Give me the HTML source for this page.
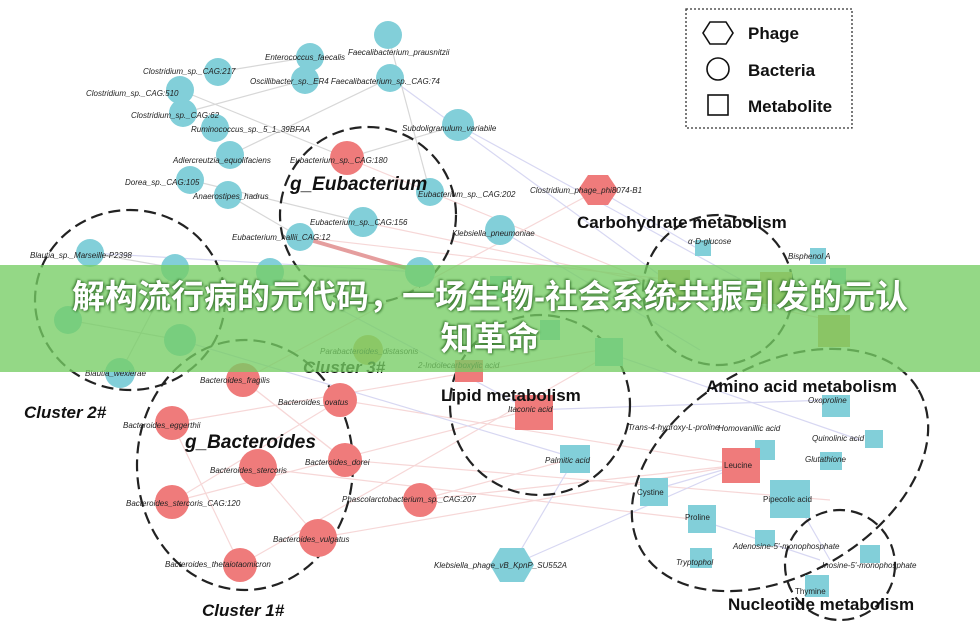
<!DOCTYPE html>
<html><head><meta charset="utf-8"><style>
body{margin:0;background:#fff;width:980px;height:638px;overflow:hidden;position:relative;font-family:"Liberation Sans",sans-serif}
svg{position:absolute;left:0;top:0}
.banner{position:absolute;left:0;top:265px;width:980px;height:107px;background:rgba(118,205,100,0.78)}
.bt{position:absolute;left:0;top:276px;width:980px;text-align:center;color:#fff;font:bold 33px "Liberation Sans","Noto Sans CJK SC",sans-serif;line-height:42px;text-shadow:1px 1px 2px #3a7a30,-1px -1px 2px #3a7a30}
</style></head><body>
<svg width="980" height="638" viewBox="0 0 980 638" font-family="Liberation Sans, sans-serif">
<g stroke-width="1.2" opacity="0.55">
<g stroke="#f0b8b8">
<line x1="243" y1="380" x2="598" y2="190"/><line x1="340" y1="400" x2="740" y2="465"/><line x1="258" y1="468" x2="700" y2="520"/>
<line x1="172" y1="502" x2="530" y2="410"/><line x1="318" y1="538" x2="740" y2="465"/><line x1="240" y1="565" x2="600" y2="360"/>
<line x1="345" y1="460" x2="830" y2="500"/><line x1="420" y1="500" x2="740" y2="465"/><line x1="172" y1="423" x2="600" y2="350"/>
<line x1="347" y1="158" x2="720" y2="310"/><line x1="300" y1="237" x2="760" y2="290"/><line x1="363" y1="222" x2="830" y2="320"/>
<line x1="243" y1="380" x2="345" y2="460"/><line x1="340" y1="400" x2="172" y2="502"/><line x1="258" y1="468" x2="318" y2="538"/>
<line x1="172" y1="423" x2="240" y2="565"/><line x1="345" y1="460" x2="243" y2="380"/><line x1="420" y1="500" x2="575" y2="458"/>
</g>
<g stroke="#b8b8e8">
<line x1="512" y1="565" x2="740" y2="465"/><line x1="512" y1="565" x2="575" y2="458"/><line x1="598" y1="190" x2="700" y2="250"/>
<line x1="500" y1="230" x2="700" y2="350"/><line x1="458" y1="125" x2="760" y2="290"/><line x1="390" y1="78" x2="680" y2="290"/>
<line x1="530" y1="410" x2="830" y2="400"/><line x1="600" y1="350" x2="860" y2="440"/><line x1="653" y1="490" x2="740" y2="465"/>
<line x1="700" y1="520" x2="820" y2="560"/><line x1="790" y1="490" x2="830" y2="560"/><line x1="270" y1="272" x2="530" y2="410"/>
<line x1="90" y1="253" x2="420" y2="272"/><line x1="180" y1="340" x2="575" y2="458"/>
</g>
<g stroke="#b8b8b8">
<line x1="310" y1="57" x2="218" y2="72"/><line x1="305" y1="80" x2="183" y2="113"/><line x1="390" y1="78" x2="230" y2="155"/>
<line x1="388" y1="35" x2="430" y2="192"/><line x1="180" y1="90" x2="347" y2="158"/><line x1="190" y1="180" x2="363" y2="222"/>
<line x1="228" y1="195" x2="300" y2="237"/><line x1="90" y1="253" x2="175" y2="268"/><line x1="68" y1="320" x2="180" y2="340"/>
<line x1="120" y1="373" x2="175" y2="268"/><line x1="458" y1="125" x2="347" y2="158"/>
</g>
<line x1="300" y1="237" x2="420" y2="272" stroke="#d05050" stroke-width="4"/>
</g>
<g fill="none" stroke="#222" stroke-width="2.2" stroke-dasharray="12,6">
<ellipse cx="130" cy="300" rx="95" ry="90"/>
<circle cx="368" cy="215" r="88"/>
<ellipse cx="245" cy="465" rx="108" ry="125"/>
<circle cx="540" cy="405" r="90"/>
<circle cx="718" cy="290" r="75"/>
<ellipse cx="780" cy="470" rx="160" ry="105" transform="rotate(-30 780 470)"/>
<circle cx="840" cy="565" r="55"/>
</g>
<g fill="#82cfd9">
<circle cx="310" cy="57" r="14"/><circle cx="388" cy="35" r="14"/><circle cx="218" cy="72" r="14"/><circle cx="180" cy="90" r="14"/>
<circle cx="183" cy="113" r="14"/><circle cx="305" cy="80" r="14"/><circle cx="390" cy="78" r="14"/><circle cx="215" cy="128" r="14"/>
<circle cx="458" cy="125" r="16"/><circle cx="230" cy="155" r="14"/><circle cx="190" cy="180" r="14"/><circle cx="228" cy="195" r="14"/>
<circle cx="430" cy="192" r="14"/><circle cx="363" cy="222" r="15"/><circle cx="300" cy="237" r="14"/><circle cx="500" cy="230" r="15"/>
<circle cx="90" cy="253" r="14"/><circle cx="175" cy="268" r="14"/><circle cx="270" cy="272" r="14"/><circle cx="68" cy="320" r="14"/>
<circle cx="180" cy="340" r="16"/><circle cx="120" cy="373" r="15"/><circle cx="420" cy="272" r="15"/>
</g>
<g fill="#ef7b7b">
<circle cx="347" cy="158" r="17"/><circle cx="243" cy="380" r="17"/><circle cx="340" cy="400" r="17"/><circle cx="172" cy="423" r="17"/>
<circle cx="258" cy="468" r="19"/><circle cx="345" cy="460" r="17"/><circle cx="172" cy="502" r="17"/><circle cx="420" cy="500" r="17"/>
<circle cx="318" cy="538" r="19"/><circle cx="240" cy="565" r="17"/>
</g>
<circle cx="368" cy="350" r="15" fill="#d6b870"/>
<polygon points="588,175 608,175 618,190 608,205 588,205 578,190" fill="#ef7b7b"/>
<polygon points="500,548 524,548 534,565 524,582 500,582 490,565" fill="#82cfd9"/>
<g fill="#82cfd9">
<rect x="695" y="240" width="16" height="16"/><rect x="810" y="248" width="16" height="16"/><rect x="830" y="268" width="16" height="16"/>
<rect x="818" y="315" width="32" height="32" fill="#cfa868"/><rect x="760" y="272" width="32" height="32" fill="#cfa868"/><rect x="658" y="270" width="32" height="32" fill="#cfa868"/>
<rect x="595" y="338" width="28" height="28"/><rect x="540" y="320" width="20" height="20"/><rect x="822" y="395" width="28" height="22"/>
<rect x="865" y="430" width="18" height="18"/><rect x="820" y="452" width="22" height="18"/><rect x="640" y="478" width="28" height="28"/>
<rect x="688" y="505" width="28" height="28"/><rect x="770" y="480" width="40" height="38"/><rect x="690" y="548" width="22" height="20"/>
<rect x="755" y="440" width="20" height="20"/><rect x="560" y="445" width="30" height="28"/><rect x="805" y="575" width="24" height="22"/>
<rect x="860" y="545" width="20" height="18"/><rect x="755" y="530" width="20" height="16"/><rect x="490" y="276" width="22" height="22"/>
</g>
<g fill="#ef7b7b"><rect x="515" y="395" width="38" height="35"/><rect x="722" y="448" width="38" height="35"/><rect x="455" y="360" width="28" height="22"/></g>
<g font-size="8" font-style="italic" fill="#222">
<text x="265" y="60">Enterococcus_faecalis</text><text x="348" y="55">Faecalibacterium_prausnitzii</text>
<text x="143" y="74">Clostridium_sp._CAG:217</text><text x="250" y="84">Oscillibacter_sp._ER4 Faecalibacterium_sp._CAG:74</text>
<text x="86" y="96">Clostridium_sp._CAG:510</text><text x="131" y="118">Clostridium_sp._CAG:62</text>
<text x="191" y="132">Ruminococcus_sp._5_1_39BFAA</text><text x="402" y="131">Subdoligranulum_variabile</text>
<text x="173" y="163">Adlercreutzia_equolifaciens</text><text x="290" y="163">Eubacterium_sp._CAG:180</text>
<text x="125" y="185">Dorea_sp._CAG:105</text><text x="193" y="199">Anaerostipes_hadrus</text>
<text x="418" y="197">Eubacterium_sp._CAG:202</text><text x="530" y="193">Clostridium_phage_phi8074-B1</text>
<text x="310" y="225">Eubacterium_sp._CAG:156</text><text x="452" y="236">Klebsiella_pneumoniae</text>
<text x="232" y="240">Eubacterium_hallii_CAG:12</text><text x="30" y="258">Blautia_sp._Marseille-P2398</text>
<text x="688" y="244">α-D-glucose</text><text x="788" y="259">Bisphenol A</text>
<text x="320" y="354">Parabacteroides_distasonis</text><text x="418" y="368">2-Indolecarboxylic acid</text>
<text x="85" y="376">Blautia_wexlerae</text><text x="200" y="383">Bacteroides_fragilis</text>
<text x="278" y="405">Bacteroides_ovatus</text><text x="508" y="412">Itaconic acid</text>
<text x="123" y="428">Bacteroides_eggerthii</text><text x="628" y="430">Trans-4-hydroxy-L-proline</text>
<text x="718" y="431">Homovanillic acid</text><text x="812" y="441">Quinolinic acid</text>
<text x="210" y="473">Bacteroides_stercoris</text><text x="305" y="465">Bacteroides_dorei</text>
<text x="545" y="463">Palmitic acid</text><text x="805" y="462">Glutathione</text>
<text x="724" y="468" font-style="normal">Leucine</text><text x="637" y="495" font-style="normal">Cystine</text>
<text x="763" y="502" font-style="normal">Pipecolic acid</text><text x="342" y="502">Phascolarctobacterium_sp._CAG:207</text>
<text x="126" y="506">Bacteroides_stercoris_CAG:120</text><text x="685" y="520" font-style="normal">Proline</text>
<text x="273" y="542">Bacteroides_vulgatus</text><text x="733" y="549">Adenosine-5'-monophosphate</text>
<text x="165" y="567">Bacteroides_thetaiotaomicron</text><text x="434" y="568">Klebsiella_phage_vB_KpnP_SU552A</text>
<text x="676" y="565">Tryptophol</text><text x="822" y="568">Inosine-5'-monophosphate</text>
<text x="795" y="594" font-style="normal">Thymine</text><text x="808" y="403">Oxoproline</text>
</g>
<g font-weight="bold" font-style="italic" fill="#111">
<text x="290" y="190" font-size="19">g_Eubacterium</text>
<text x="185" y="448" font-size="19">g_Bacteroides</text>
<text x="24" y="418" font-size="17">Cluster 2#</text>
<text x="202" y="616" font-size="17">Cluster 1#</text>
<text x="303" y="373" font-size="17">Cluster 3#</text>
</g>
<g font-weight="bold" fill="#111" font-size="17">
<text x="577" y="228">Carbohydrate metabolism</text>
<text x="441" y="401">Lipid metabolism</text>
<text x="706" y="392">Amino acid metabolism</text>
<text x="728" y="610">Nucleotide metabolism</text>
</g>
<rect x="686" y="9" width="166" height="119" fill="none" stroke="#333" stroke-width="1.3" stroke-dasharray="2,2"/>
<polygon points="710,22 726,22 733,33 726,44 710,44 703,33" fill="none" stroke="#111" stroke-width="1.6"/>
<circle cx="718" cy="69" r="11" fill="none" stroke="#111" stroke-width="1.6"/>
<rect x="708" y="95" width="20" height="20" fill="none" stroke="#111" stroke-width="1.6"/>
<g font-size="17" font-weight="bold" fill="#111"><text x="748" y="39">Phage</text><text x="748" y="76">Bacteria</text><text x="748" y="112">Metabolite</text></g>
</svg>
<div class="banner"></div>
<div class="bt">解构流行病的元代码，一场生物-社会系统共振引发的元认<br>知革命</div>
</body></html>
